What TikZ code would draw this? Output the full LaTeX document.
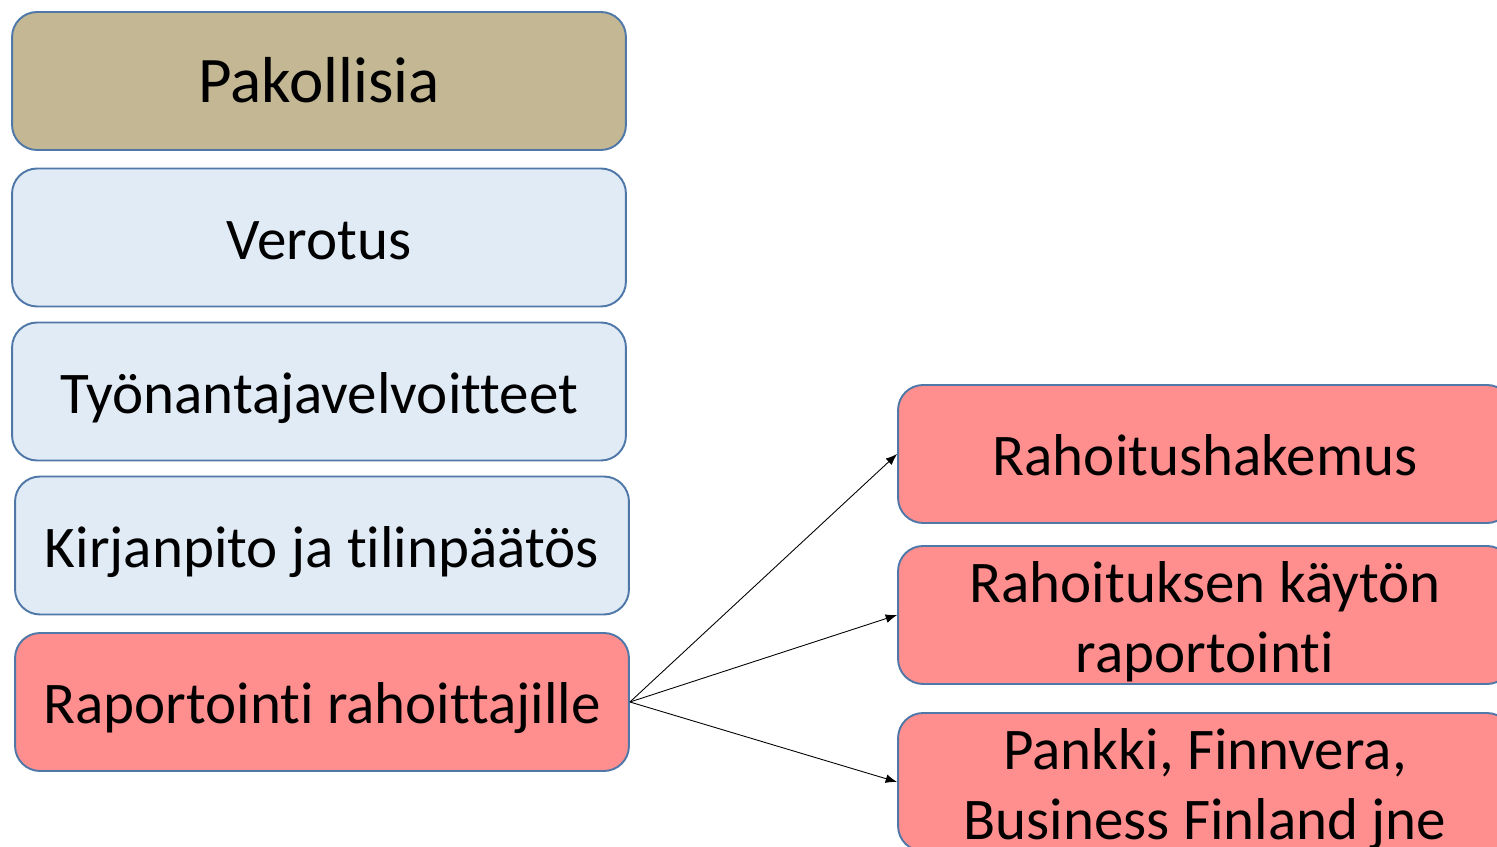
\documentclass[tikz,border=0pt]{standalone}
\usepackage{fontspec}
\setmainfont{Carlito}[Ligatures=CommonOff]
\usetikzlibrary{arrows.meta}

\definecolor{tan}{HTML}{C4B793}
\definecolor{paleblue}{HTML}{E1EBF6}
\definecolor{salmon}{HTML}{FF8F8F}
\definecolor{edge}{HTML}{4F78A8}

\tikzset{
  item/.style={draw=edge, line width=1.1pt, rounded corners=0.5cm,
    minimum width=12.28cm, minimum height=2.76cm, align=center,
    text height=25pt, text depth=0pt,
    font=\fontsize{33.6}{39.8}\selectfont},
  twoline/.style={text height=65pt},
  duty/.style={item, fill=paleblue},
  funder/.style={item, fill=salmon},
  feed/.style={-{Latex[length=6.5pt,width=5pt]}, line width=0.5pt},
}

\begin{document}
\begin{tikzpicture}[x=0.02cm,y=-0.02cm]
\useasboundingbox (0,0) rectangle (1497,847);
\clip (0,0) rectangle (1497,847);

\node[item, fill=tan, font=\fontsize{37}{40}\selectfont] (mandatory) at (319,81) {Pakollisia};
\node[duty] (tax) at (319,237.5) {Verotus};
\node[duty] (employer) at (319,391.5) {Työnantajavelvoitteet};
\node[duty] (books) at (322,545.5) {Kirjanpito ja tilinpäätös};
\node[funder] (reporting) at (322,702) {Raportointi rahoittajille};

\node[funder] (application) at (1205,454) {Rahoitushakemus};
\node[funder, twoline] (usage) at (1205,615) {Rahoituksen käytön\\raportointi};
\node[funder, twoline] (banks) at (1205,782) {Pankki, Finnvera,\\Business Finland jne};

\draw[feed] (reporting.east) -- (application.west);
\draw[feed] (reporting.east) -- (usage.west);
\draw[feed] (reporting.east) -- (banks.west);
\end{tikzpicture}
\end{document}
